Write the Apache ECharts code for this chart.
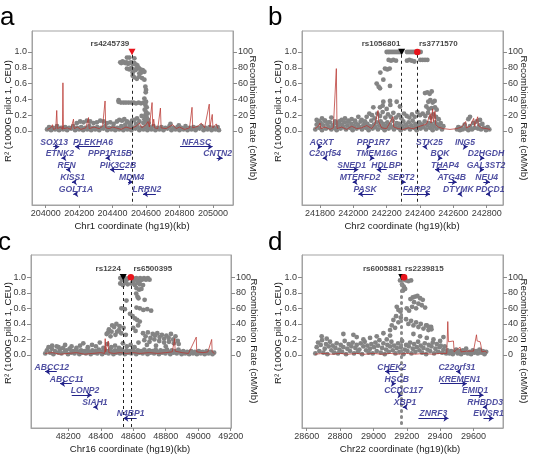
<!DOCTYPE html>
<html><head><meta charset="utf-8">
<script src="https://cdn.jsdelivr.net/npm/echarts@6/dist/echarts.min.js"></script>
<style>html,body{margin:0;padding:0;background:#fff}#c{width:535px;height:458px}</style>
</head><body><div id="c"></div>
<script>
// ---------- tick labels ----------
const r2Ticks = [0, 0.2, 0.4, 0.6, 0.8, 1.0];
const recTicks = [0, 20, 40, 60, 80, 100];
const aTicks = [204000, 204200, 204400, 204600, 204800, 205000];
const bTicks = [241800, 242000, 242200, 242400, 242600, 242800];
const cTicks = [48200, 48400, 48600, 48800, 49000, 49200];
const dTicks = [28600, 28800, 29000, 29200, 29400, 29600];
const xTitles = ['Chr1 coordinate (hg19)(kb)', 'Chr2 coordinate (hg19)(kb)', 'Chr16 coordinate (hg19)(kb)', 'Chr22 coordinate (hg19)(kb)'];
const panelLetters = ['a', 'b', 'c', 'd'];

// ---------- panel a ----------
const aBase = [[204008,.02],[204020,.05],[204032,.01],[204044,.04],[204056,.02],[204068,.06],[204080,.01],[204092,.04],[204104,.02],[204116,.05],[204128,.01],[204140,.04],[204152,.03],[204164,.06],[204176,.01],[204188,.04],[204200,.02],[204212,.05],[204224,.01],[204236,.04],[204248,.02],[204260,.06],[204272,.01],[204284,.04],[204296,.02],[204308,.05],[204320,.01],[204332,.04],[204344,.03],[204356,.06],[204368,.01],[204380,.04],[204392,.02],[204404,.05],[204416,.01],[204428,.04],[204440,.02],[204452,.06],[204464,.01],[204476,.04],[204488,.02],[204500,.05],[204512,.01],[204524,.04],[204536,.03],[204548,.06],[204560,.01],[204572,.04],[204584,.02],[204596,.05],[204608,.01],[204620,.04],[204632,.02],[204644,.06],[204656,.01],[204668,.04],[204680,.02],[204692,.05],[204704,.01],[204716,.04],[204728,.03],[204740,.06],[204752,.01],[204764,.04],[204776,.02],[204788,.05],[204800,.01],[204812,.04],[204824,.02],[204836,.06],[204848,.01],[204860,.04],[204872,.02],[204884,.05],[204896,.01],[204908,.04],[204920,.03],[204932,.06],[204944,.01],[204956,.04],[204968,.02],[204980,.05],[204992,.01],[205004,.04],[205016,.02],[205028,.05],[205036,.01]];
const aPts = [[204486,.93],[204500,.93],[204530,.92],
[204446,.87],[204452,.86],[204460,.88],[204468,.87],[204476,.86],[204484,.87],[204492,.85],[204500,.86],[204510,.87],[204520,.85],[204530,.86],[204540,.84],[204548,.83],
[204486,.79],[204500,.78],[204512,.80],[204524,.78],[204536,.77],[204546,.79],[204556,.80],[204566,.78],[204580,.77],[204590,.75],[204572,.74],[204560,.73],[204520,.74],
[204520,.70],[204530,.68],[204545,.66],[204560,.69],[204576,.67],[204590,.65],
[204596,.56],[204600,.52],[204598,.49],
[204436,.39],[204436,.37],[204450,.36],[204466,.36],[204480,.36],[204496,.36],[204512,.36],[204526,.36],[204540,.35],[204556,.36],[204570,.35],[204586,.36],[204600,.37],
[204590,.41],[204596,.33],[204604,.30],[204592,.27],[204600,.24],[204610,.22],[204596,.20],[204604,.17],[204612,.14],[204600,.12],[204616,.10],[204608,.07],[204620,.05],[204590,.15],[204584,.10],
[204426,.12],[204440,.14],[204456,.13],[204470,.15],[204486,.12],[204500,.10],[204516,.13],[204530,.14],[204546,.16],[204560,.12],[204574,.19],[204540,.09],[204476,.08],[204510,.07],
[204186,.10],[204206,.12],[204226,.11],[204246,.13],[204266,.12],[204286,.10],[204306,.11],[204326,.13],[204346,.12],[204366,.10],[204386,.11],[204406,.09],
[204746,.09],[204796,.07]];
const aRec = [[204010,2],[204030,4],[204040,8],[204046,2],[204060,3],[204066,26],[204070,3],[204090,5],[204100,2],[204103,61],[204106,3],[204130,4],[204150,2],[204166,15],[204170,3],[204190,5],[204200,6],[204210,2],[204240,4],[204256,17],[204260,3],[204290,5],[204320,3],[204340,6],[204355,38],[204359,4],[204380,3],[204400,5],[204420,4],[204450,2],[204480,5],[204510,3],[204540,6],[204560,10],[204575,4],[204600,8],[204612,12],[204620,5],[204636,36],[204640,6],[204646,15],[204652,4],[204670,3],[204686,29],[204690,4],[204720,3],[204760,8],[204780,3],[204800,5],[204830,2],[204860,4],[204875,30],[204879,4],[204910,6],[204930,10],[204950,4],[204978,34],[204982,5],[204996,21],[205000,4],[205020,9],[205030,3]];
// [name, label kb, start, end, row, strand]
const aGenes = [['SOX13',204050,204045,204081,0,1],['PLEKHA6',204283,204175,204325,0,-1],['NFASC',204902,204803,204998,0,1],
['ETNK2',204085,204094,204101,1,-1],['PPP1R15B',204384,204358,204366,1,-1],['CNTN2',205028,205022,205058,1,1],
['REN',204125,204122,204130,2,-1],['PIK3C2B',204432,204384,204468,2,-1],
['KISS1',204161,204157,204164,3,-1],['MDM4',204514,204492,204522,3,1],
['GOLT1A',204181,204165,204172,4,-1],['LRRN2',204605,204582,204659,4,-1]];
// [name, kb, r2, colour, shape]
const aSnps = [['rs4245739',204516,1.0,'#e8141c','tri']];
const aSnpLabels = [['rs4245739',204384]];

// ---------- panel b ----------
const bBase = [[241772,.02],[241780,.08],[241788,.12],[241796,.04],[241804,.10],[241812,.01],[241820,.07],[241828,.13],[241836,.03],[241844,.09],[241852,.05],[241860,.11],[241868,.02],[241876,.07],[241884,.04],[241892,.10],[241900,.01],[241908,.06],[241916,.12],[241924,.03],[241932,.08],[241940,.05],[241948,.11],[241956,.02],[241964,.07],[241972,.13],[241980,.04],[241988,.09],[241996,.01],[242004,.06],[242012,.11],[242020,.03],[242028,.08],[242036,.05],[242044,.12],[242052,.02],[242060,.07],[242068,.10],[242076,.04],[242084,.09],[242092,.01],[242100,.06],[242108,.13],[242116,.03],[242124,.08],[242132,.05],[242140,.11],[242148,.02],[242156,.07],[242164,.12],[242172,.04],[242180,.09],[242188,.01],[242196,.06],[242204,.11],[242212,.03],[242220,.08],[242228,.05],[242236,.13],[242244,.02],[242252,.07],[242260,.10],[242268,.04],[242276,.09],[242284,.01],[242292,.06],[242300,.12],[242308,.03],[242316,.08],[242324,.05],[242332,.11],[242340,.02],[242348,.07],[242356,.13],[242364,.04],[242372,.09],[242380,.01],[242388,.06],[242396,.11],[242404,.03],[242412,.08],[242420,.05],[242428,.12],[242436,.02],[242444,.07],[242452,.10],[242460,.04],[242468,.09],[242476,.01],[242484,.06],[242492,.11],[242500,.03],[242508,.08],[242516,.05],[242524,.10],[242532,.02],[242540,.06],
[242622,.02],[242630,.05],[242640,.01],[242648,.04],[242656,.02],[242668,.08],[242676,.03],[242690,.01],[242700,.06],[242712,.02],[242720,.10],[242728,.04],[242740,.12],[242748,.03],[242756,.07],[242766,.02],[242774,.09],[242784,.04],[242796,.01],[242806,.05],[242816,.02]];
const bPts = [[242200,1],[242210,1],[242220,1],[242232,1],[242244,1],[242256,1],[242268,1],[242280,1],[242322,1],[242334,1],[242346,1],[242358,1],[242370,1],[242394,1],[242404,1],
[242212,.90],[242226,.89],[242240,.90],[242256,.89],[242322,.89],[242336,.90],[242350,.89],[242366,.88],[242402,.90],[242416,.90],[242430,.90],[242444,.90],
[242162,.74],[242190,.79],[242204,.78],[242218,.79],[242180,.65],[242140,.60],[242152,.56],[242160,.54],[242220,.57],
[242430,.48],[242444,.49],[242458,.47],[242470,.50],[242450,.37],[242462,.39],[242476,.36],[242488,.38],[242180,.37],[242220,.38],[242260,.37],
[242160,.30],[242176,.32],[242200,.28],[242222,.33],[242280,.31],[242438,.31],[242452,.28],[242470,.29],[242490,.30],[242500,.27],[242120,.30],
[242080,.18],[242096,.22],[242112,.20],[242128,.16],[242144,.22],[242160,.19],[242176,.24],[242192,.17],[242208,.21],[242224,.18],[242240,.23],[242256,.17],[242272,.20],[242288,.16],[242304,.22],[242320,.19],[242336,.17],[242352,.21],[242368,.18],[242384,.24],[242400,.20],[242416,.22],[242432,.19],[242448,.23],[242464,.17],[242480,.21],[242496,.18],[242512,.15],
[241780,.14],[241796,.12],[241812,.16],[241830,.13],[241850,.11],[241868,.17],[241890,.12],[241910,.10],[241930,.14],[241950,.16],[241970,.12],[241990,.15],[242010,.13],[242030,.18],[242050,.14],[242070,.12],
[242690,.15],[242700,.18],[242760,.14]];
const bRec = [[241770,3],[241790,6],[241800,10],[241805,3],[241830,5],[241860,2],[241880,4],[241898,79],[241902,3],[241930,5],[241960,2],[241990,6],[242020,3],[242050,4],[242080,7],[242110,3],[242130,9],[242148,26],[242152,12],[242170,4],[242200,3],[242238,18],[242242,5],[242270,3],[242300,2],[242330,4],[242360,3],[242400,6],[242440,9],[242462,22],[242466,10],[242476,28],[242480,12],[242490,25],[242494,8],[242510,5],[242540,3],[242580,2],[242620,3],[242650,5],[242674,12],[242678,4],[242700,6],[242722,16],[242728,6],[242746,18],[242750,7],[242770,4],[242800,3],[242820,2]];
const bGenes = [['AGXT',241810,241802,241812,0,1],['PPP1R7',242120,242096,242106,0,1],['STK25',242456,242416,242426,0,-1],['ING5',242670,242676,242686,0,1],
['C2orf54',241830,241816,241824,1,-1],['TMEM16G',242140,242116,242126,1,1],['BOK',242520,242526,242534,1,1],['D2HGDH',242796,242776,242786,1,1],
['SNED1',241990,241920,242030,2,1],['HDLBP',242196,242140,242200,2,-1],['THAP4',242550,242490,242560,2,-1],['GAL3ST2',242796,242776,242784,2,1],
['MTERFD2',242040,241996,242004,3,-1],['SEPT2',242286,242306,242314,3,1],['ATG4B',242590,242570,242620,3,1],['NEU4',242800,242780,242820,3,1],
['PASK',242070,242030,242120,4,-1],['FARP2',242380,242300,242460,4,1],['DTYMK',242630,242626,242634,4,-1],['PDCD1',242820,242796,242804,4,-1]];
const bSnps = [['rs1056801',242290,1.0,'#000000','tri'],['rs3771570',242384,1.0,'#e8141c','dot']];
const bSnpLabels = [['rs1056801',242166],['rs3771570',242510]];

// ---------- panel c ----------
const cBase = [[48058,.02],[48068,.06],[48078,.10],[48088,.03],[48098,.08],[48108,.01],[48118,.05],[48128,.11],[48138,.03],[48148,.07],[48158,.02],[48168,.09],[48178,.04],[48188,.06],[48198,.01],[48208,.08],[48218,.03],[48228,.05],[48238,.02],[48248,.07],[48258,.04],[48268,.01],[48278,.06],[48288,.03],[48298,.05],[48308,.02],[48318,.07],[48328,.04],[48338,.01],[48348,.06],[48358,.03],[48368,.05],[48378,.02],[48388,.07],[48398,.04],[48408,.01],[48418,.06],[48428,.03],[48438,.05],[48448,.02],[48458,.07],[48468,.04],[48478,.01],[48488,.06],[48498,.03],[48508,.05],[48518,.02],[48528,.07],[48538,.04],[48548,.01],[48558,.06],[48568,.03],[48578,.05],[48588,.02],[48598,.07],[48608,.04],[48618,.01],[48628,.06],[48638,.03],[48648,.05],[48658,.02],[48668,.07],[48678,.04],[48688,.01],[48698,.06],[48708,.03],[48718,.05],[48728,.02],[48738,.07],[48748,.04],[48758,.01],[48768,.06],[48778,.03],[48788,.05],[48798,.02],[48808,.07],[48818,.04],[48828,.01],[48838,.06],[48848,.03],[48858,.05],[48868,.02],[48878,.07],[48888,.04],[48898,.01],[48908,.05],[48920,.02],[48932,.04],[48944,.01],[48956,.05],[48968,.02],[48980,.04],[48992,.01],[49004,.05],[49016,.02],[49028,.04],[49040,.01],[49052,.05],[49064,.02],[49076,.04],[49088,.01],[49098,.03]];
const cPts = [[48520,.99],[48530,.97],[48548,.99],[48560,.97],[48572,.99],[48596,.99],[48606,.97],[48618,.99],[48630,.97],[48642,.99],[48654,.97],[48666,.99],[48678,.97],[48690,.99],[48700,.97],[48550,.95],[48600,.95],[48640,.95],
[48520,.92],[48536,.90],[48552,.93],[48566,.91],[48590,.92],[48610,.90],[48626,.93],[48640,.91],[48660,.90],
[48620,.86],[48636,.84],[48650,.85],[48618,.79],[48626,.75],[48632,.73],[48558,.70],[48670,.71],
[48527,.60],[48548,.59],[48620,.61],[48640,.60],[48662,.58],[48686,.59],[48710,.57],
[48580,.53],[48596,.50],[48610,.47],[48624,.45],[48640,.43],
[48436,.27],[48450,.33],[48466,.30],[48482,.36],[48496,.40],[48512,.32],[48526,.28],[48540,.35],[48554,.26],[48470,.38],[48500,.30],[48516,.37],[48444,.29],[48460,.24],[48490,.26],[48600,.35],[48614,.31],[48630,.38],
[48660,.28],[48676,.24],[48690,.29],[48706,.22],[48720,.27],[48734,.25],[48748,.28],[48762,.23],[48776,.26],[48790,.21],[48804,.25],[48818,.22],[48832,.27],[48846,.20],[48860,.24],[48874,.18],[48668,.19],[48700,.17],[48730,.20],[48760,.18],[48790,.16],[48820,.17],[48850,.15],[48880,.14],[48684,.13],[48740,.12],[48800,.11],
[48272,.12],[48292,.15],[48320,.10],[48346,.13],[48370,.11],[48394,.16],[48416,.09],[48440,.14],[48464,.10],[48488,.12],[48512,.09],[48536,.15],[48560,.11],[48584,.13],[48608,.10],[48632,.16],
[48100,.12],[48140,.10],[48180,.13],[48220,.11],[48250,.09]];
const cRec = [[48057,2],[48100,3],[48150,1],[48200,2],[48250,3],[48300,1],[48350,2],[48400,3],[48424,2],[48427,21],[48430,4],[48446,18],[48450,3],[48480,2],[48520,3],[48560,2],[48600,3],[48640,2],[48700,3],[48750,2],[48800,3],[48840,4],[48855,21],[48858,5],[48900,3],[48940,2],[48988,23],[48991,4],[49030,3],[49060,4],[49083,20],[49086,4],[49100,2]];
const cGenes = [['ABCC12',48098,48057,48129,0,-1],['ABCC11',48190,48149,48221,1,-1],['LONP2',48303,48221,48344,2,1],['SIAH1',48364,48354,48362,3,-1],['N4BP1',48584,48539,48621,4,-1]];
const cSnps = [['rs1224',48538,1.0,'#000000','tri'],['rs6500395',48585,1.0,'#e8141c','dot']];
const cSnpLabels = [['rs1224',48446],['rs6500395',48720]];

// ---------- panel d ----------
const dBase = [[28652,.02],[28660,.10],[28668,.16],[28676,.05],[28684,.13],[28692,.19],[28700,.03],[28708,.08],[28716,.14],[28724,.01],[28732,.11],[28740,.17],[28748,.06],[28756,.12],[28764,.03],[28772,.09],[28780,.15],[28788,.02],[28796,.07],[28804,.13],[28812,.04],[28820,.10],[28828,.18],[28836,.01],[28844,.08],[28852,.14],[28860,.05],[28868,.11],[28876,.16],[28884,.02],[28892,.09],[28900,.13],[28908,.04],[28916,.07],[28924,.15],[28932,.01],[28940,.11],[28948,.17],[28956,.06],[28964,.12],[28972,.03],[28980,.08],[28988,.14],[28996,.02],[29004,.10],[29012,.16],[29020,.05],[29028,.12],[29036,.19],[29044,.03],[29052,.09],[29060,.15],[29068,.01],[29076,.07],[29084,.13],[29092,.04],[29100,.11],[29108,.17],[29116,.06],[29124,.12],[29132,.02],[29140,.09],[29148,.15],[29156,.04],[29164,.10],[29172,.18],[29180,.01],[29188,.07],[29196,.13],[29204,.05],[29212,.11],[29220,.16],[29228,.02],[29236,.08],[29244,.14],[29252,.04],[29260,.10],[29268,.17],[29276,.06],[29284,.12],[29292,.03],[29300,.09],[29308,.15],[29316,.01],[29324,.07],[29332,.13],[29340,.05],[29348,.11],[29356,.16],[29364,.02],[29372,.08],[29380,.14],[29388,.04],[29396,.10],[29404,.12],[29412,.03],[29420,.07],[29428,.11],[29436,.02],[29444,.06],
[29456,.02],[29466,.05],[29476,.01],[29486,.04],[29496,.07],[29506,.02],[29516,.05],[29526,.01],[29536,.06],[29546,.03],[29556,.08],[29566,.02],[29576,.04],[29586,.01],[29596,.06],[29606,.03],[29616,.05],[29626,.02],[29636,.07],[29646,.03],[29656,.05],[29666,.01],[29676,.04]];
const dPts = [[29160,.96],[29176,.97],[29196,.96],[29210,.95],[29226,.96],[29172,.91],[29182,.88],[29190,.85],[29178,.83],
[29222,.72],[29236,.74],[29250,.75],[29264,.76],[29280,.73],[29296,.71],[29244,.68],[29270,.66],[29290,.64],[29310,.61],[29232,.62],[29256,.60],
[29140,.62],[29150,.58],[29162,.56],[29200,.60],[29214,.57],
[29120,.45],[29136,.50],[29150,.42],[29164,.48],[29196,.46],[29210,.40],[29226,.44],[29240,.38],[29256,.42],[29270,.36],[29284,.40],[29300,.34],[29316,.38],[29330,.32],[29346,.36],[29130,.35],[29110,.38],[29100,.32],
[29320,.38],[29334,.36],[29348,.33],
[28690,.24],[28720,.21],[28820,.27],[28880,.26],[28900,.23],[28940,.20],[28980,.22],[29020,.24],[29060,.28],[29080,.20],[29100,.25],[29240,.27],[29280,.24],[29320,.22],[29360,.20],[29400,.18],[29420,.23]];
const dRec = [[28650,1],[28700,2],[28750,1],[28800,2],[28850,1],[28900,2],[28950,1],[29000,2],[29050,1],[29100,2],[29150,1],[29200,2],[29250,1],[29300,2],[29350,1],[29400,2],[29440,2],[29446,43],[29450,17],[29480,18],[29484,4],[29500,7],[29520,10],[29526,4],[29560,5],[29600,5],[29618,26],[29622,18],[29640,17],[29645,12],[29650,4],[29670,5],[29680,3]];
const dGenes = [['CHEK2',29110,29070,29150,0,-1],['C22orf31',29500,29496,29504,0,-1],
['HSCB',29140,29126,29134,1,1],['KREMEN1',29516,29400,29560,1,1],
['CCDC117',29180,29166,29174,2,1],['EMID1',29610,29580,29660,2,1],
['XBP1',29190,29176,29184,3,-1],['RHBDD3',29670,29656,29664,3,-1],
['ZNRF3',29360,29270,29450,4,1],['EWSR1',29690,29660,29720,4,1]];
const dSnps = [['rs6005881',29170,1.0,'#000000','tri'],['rs2239815',29184,1.0,'#e8141c','dot']];
const dSnpLabels = [['rs6005881',29053],['rs2239815',29305]];

// ---------- layout (positions / styles) ----------
const FONT = "'Liberation Sans', Arial, Helvetica, sans-serif";
const GENE = '#23238a';
const layouts = [
  {grid:{left:32,top:31,width:201,height:174}, x:[203918,205120], y:[-0.937,1.266], rows:[-0.143,-0.286,-0.434,-0.590,-0.742], lab:1.10, lx:8, ly:111, rx:253, ry:118, tx:132, ty:226, px:0, py:18, vline:'dash'},
  {grid:{left:302,top:31,width:201,height:174}, x:[241692,242898], y:[-0.937,1.266], rows:[-0.143,-0.286,-0.434,-0.590,-0.742], lab:1.10, lx:278, ly:111, rx:524, ry:118, tx:402, ty:226, px:268, py:18, vline:'dash'},
  {grid:{left:31,top:255,width:200,height:173}, x:[47970,49202], y:[-0.94,1.287], rows:[-0.158,-0.313,-0.460,-0.614,-0.760], lab:1.107, lx:8, ly:333, rx:254, ry:341, tx:130, ty:449, px:-2, py:243, vline:'dash'},
  {grid:{left:302,top:255,width:201,height:173}, x:[28572,29777], y:[-0.94,1.287], rows:[-0.158,-0.313,-0.460,-0.614,-0.760], lab:1.107, lx:278, ly:333, rx:524, ry:341, tx:400, ty:449, px:268, py:243, vline:'dot'}
];
const data = [
  {ticks:aTicks, base:aBase, pts:aPts, rec:aRec, genes:aGenes, snps:aSnps, snpLabels:aSnpLabels},
  {ticks:bTicks, base:bBase, pts:bPts, rec:bRec, genes:bGenes, snps:bSnps, snpLabels:bSnpLabels},
  {ticks:cTicks, base:cBase, pts:cPts, rec:cRec, genes:cGenes, snps:cSnps, snpLabels:cSnpLabels},
  {ticks:dTicks, base:dBase, pts:dPts, rec:dRec, genes:dGenes, snps:dSnps, snpLabels:dSnpLabels}
];

const option = {animation:false, backgroundColor:'#fff', grid:[], xAxis:[], yAxis:[], series:[], graphic:[]};
const AX = '#8a8a8a';
data.forEach((d, i) => {
  const L = layouts[i];
  option.grid.push(Object.assign({show:true, borderColor:'#a3a3a3', borderWidth:1, backgroundColor:'transparent'}, L.grid));
  option.xAxis.push({type:'value', gridIndex:i, min:L.x[0], max:L.x[1], position:'bottom',
    axisLine:{show:true, onZero:false, lineStyle:{color:'#a3a3a3'}},
    axisTick:{show:true, customValues:d.ticks, length:3, lineStyle:{color:AX}},
    axisLabel:{customValues:d.ticks, formatter:v => String(Math.round(v)), fontSize:9, color:'#3a3a3a', margin:4, fontFamily:FONT},
    splitLine:{show:false}});
  option.yAxis.push({type:'value', gridIndex:i, position:'left', min:L.y[0], max:L.y[1],
    axisLine:{show:true, onZero:false, lineStyle:{color:'#a3a3a3'}},
    axisTick:{show:true, customValues:r2Ticks, length:4, lineStyle:{color:AX}},
    axisLabel:{customValues:r2Ticks, formatter:v => v.toFixed(1), fontSize:9, color:'#3a3a3a', margin:5, fontFamily:FONT},
    splitLine:{show:false}});
  option.yAxis.push({type:'value', gridIndex:i, position:'right', min:L.y[0]*100, max:L.y[1]*100,
    axisLine:{show:true, onZero:false, lineStyle:{color:'#a3a3a3'}},
    axisTick:{show:true, customValues:recTicks, length:4, lineStyle:{color:AX}},
    axisLabel:{customValues:recTicks, formatter:v => String(Math.round(v)), fontSize:9, color:'#3a3a3a', margin:5, fontFamily:FONT},
    splitLine:{show:false}});
  const yl = 2*i, yr = 2*i+1;
  // LD points
  option.series.push({type:'scatter', xAxisIndex:i, yAxisIndex:yl, data:d.base.concat(d.pts), symbol:'circle', symbolSize:4.8,
    itemStyle:{color:'#848484', opacity:1, borderWidth:0, borderColor:'#848484'}, silent:true, z:2, large:false});
  // recombination rate
  option.series.push({type:'line', xAxisIndex:i, yAxisIndex:yr, data:d.rec, showSymbol:false, symbol:'none',
    lineStyle:{color:'#b8342f', width:1, opacity:0.75}, silent:true, z:3});
  // index SNPs + vertical lines
  const dot = L.vline === 'dot';
  const vl = dot ? {color:'#8a8a8a', width:3, type:[1,5], cap:'round', opacity:1}
                 : {color:'#222', width:1, type:[3,3], opacity:1};
  option.series.push({type:'scatter', xAxisIndex:i, yAxisIndex:yl, silent:true, z:5,
    data:d.snps.map(s => ({value:[s[1], s[2]], symbol: s[4]==='tri' ? 'path://M0,0 L10,0 L5,9 Z' : 'circle',
      symbolSize: s[4]==='tri' ? [7,6.5] : 6.5, itemStyle:{color:s[3], opacity:1, borderWidth:0}})),
    markLine:{silent:true, symbol:['none','none'], label:{show:false}, lineStyle:vl, animation:false,
      data:(dot ? d.snps.slice(0,1) : d.snps).map(s => [{coord:[s[1], dot ? 0.985 : 0.965]}, {coord:[s[1], L.y[0]]}])}});
  // SNP labels
  option.series.push({type:'scatter', xAxisIndex:i, yAxisIndex:yl, silent:true, z:6, symbolSize:1,
    itemStyle:{color:'rgba(0,0,0,0)', borderWidth:0},
    data:d.snpLabels.map(s => ({name:s[0], value:[s[1], L.lab]})),
    label:{show:true, position:'inside', formatter:'{b}', fontSize:8, fontWeight:'bold', color:'#111', fontFamily:FONT}});
  // genes
  option.series.push({type:'lines', coordinateSystem:'cartesian2d', xAxisIndex:i, yAxisIndex:yl, silent:true, z:4,
    symbol:['none','arrow'], symbolSize:5,
    lineStyle:{color:GENE, width:1.2, opacity:1, curveness:0},
    data:d.genes.map(g => { const y = L.rows[g[4]] - 0.056;
      return {coords: g[5] > 0 ? [[g[2], y], [g[3], y]] : [[g[3], y], [g[2], y]]}; })});
  option.series.push({type:'scatter', xAxisIndex:i, yAxisIndex:yl, silent:true, z:6, symbolSize:1,
    itemStyle:{color:'rgba(0,0,0,0)', borderWidth:0},
    data:d.genes.map(g => ({name:g[0], value:[g[1], L.rows[g[4]]]})),
    label:{show:true, position:'inside', formatter:'{b}', fontSize:8.6, fontWeight:'bold', fontStyle:'italic', color:GENE, fontFamily:FONT}});
  // texts
  option.graphic.push({type:'text', x:L.px, y:L.py, style:{text:panelLetters[i], font:'26px ' + FONT, fill:'#000', verticalAlign:'middle', align:'left'}});
  option.graphic.push({type:'text', x:L.lx, y:L.ly, rotation:Math.PI/2, style:{text:'R² (1000G pilot 1, CEU)', font:'9.6px ' + FONT, fill:'#222', align:'center', verticalAlign:'middle'}});
  option.graphic.push({type:'text', x:L.rx, y:L.ry, rotation:-Math.PI/2, style:{text:'Recombination Rate (cM/Mb)', font:'9.6px ' + FONT, fill:'#222', align:'center', verticalAlign:'middle'}});
  option.graphic.push({type:'text', x:L.tx, y:L.ty, style:{text:xTitles[i], font:'9.6px ' + FONT, fill:'#222', align:'center', verticalAlign:'middle'}});
});

const chart = echarts.init(document.getElementById('c'), null, {renderer:'canvas'});
chart.setOption(option);
</script>
</body></html>
